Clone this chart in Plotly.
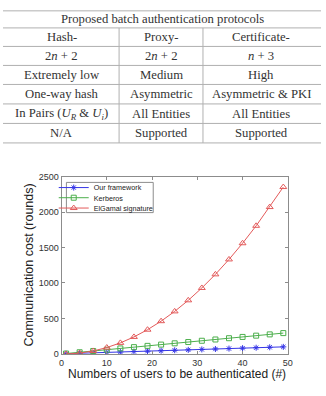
import plotly.graph_objects as go

W, H = 326, 396

# ---------------- data ----------------
table_title = "Proposed batch authentication protocols"
table_columns = ["Hash-", "Proxy-", "Certificate-"]
table_rows = [
    ["2<i>n</i> + 2", "2<i>n</i> + 2", "<i>n</i> + 3"],
    ["Extremely low", "Medium", "High"],
    ["One-way hash", "Asymmetric", "Asymmetric &amp; PKI"],
    ["In Pairs (<i>U<sub>R</sub></i> &amp; <i>U<sub>i</sub></i>)", "All Entities", "All Entities"],
    ["N/A", "Supported", "Supported"],
]

users = [1, 4, 7, 10, 13, 16, 19, 22, 25, 28, 31, 34, 37, 40, 43, 46, 49]
our_framework = [4, 10, 16, 22, 28, 34, 40, 46, 52, 58, 64, 70, 76, 82, 88, 94, 100]
kerberos = [6, 24, 42, 60, 78, 96, 114, 132, 150, 168, 186, 204, 222, 240, 258, 276, 294]
elgamal = [0, 12, 42, 90, 156, 240, 342, 462, 600, 756, 930, 1122, 1332, 1560, 1806, 2070, 2352]

series_names = ["Our framework", "Kerberos", "ElGamal signature"]
x_title = "Numbers of users to be authenticated (#)"
y_title = "Communication cost (rounds)"

# ---------------- helpers ----------------
def px(x):
    return x / W

def py(y):
    return 1 - y / H

fig = go.Figure()

colors = ["#3535e6", "#4caf4c", "#e35a5a"]
symbols = ["asterisk-open", "square-open", "triangle-up-open"]
sizes = [5, 5, 6]
legends = ["legend", "legend2", "legend3"]
for name, vals, c, s, sz, lg in zip(series_names, [our_framework, kerberos, elgamal],
                                    colors, symbols, sizes, legends):
    fig.add_trace(go.Scatter(
        x=users, y=vals, name=name, mode="lines+markers",
        line=dict(color=c, width=1),
        marker=dict(symbol=s, size=sz, color=c, line=dict(color=c, width=1)),
        legend=lg,
    ))

# plot area
left, right, top, bottom = 60, 292, 176, 358
axis_common = dict(
    showline=True, linecolor="#8c8c8c", linewidth=1, mirror="ticks",
    ticks="inside", ticklen=3, tickcolor="#8c8c8c", showgrid=False, zeroline=False,
    tickfont=dict(family="Liberation Sans, Arial", size=9, color="#333"),
)
fig.update_xaxes(domain=[px(left), px(right)], range=[0, 50], dtick=10, **axis_common)
fig.update_yaxes(domain=[py(bottom), py(top)], range=[0, 2500], dtick=500, **axis_common)

shapes = []
annotations = []

# ---------------- table ----------------
hlines = [6, 23.5, 42.5, 62, 81.5, 101.5, 121.5, 141.5]
vlines = [119, 205]
col_centers = [60, 162, 265]
for y in hlines:
    shapes.append(dict(type="line", xref="paper", yref="paper", x0=0, x1=1,
                       y0=py(y), y1=py(y), line=dict(color="#b0b0b0", width=1)))
for x in vlines:
    shapes.append(dict(type="line", xref="paper", yref="paper", x0=px(x), x1=px(x),
                       y0=py(hlines[1]), y1=py(hlines[-1]), line=dict(color="#b0b0b0", width=1)))

tfont = dict(family="Liberation Serif, Times New Roman, serif", size=12.7, color="#333")
annotations.append(dict(text=table_title, xref="paper", yref="paper", x=0.5,
                        y=py((hlines[0] + hlines[1]) / 2), showarrow=False,
                        xanchor="center", yanchor="middle", font=tfont))
all_rows = [table_columns] + table_rows
for r, row in enumerate(all_rows):
    yc = (hlines[r + 1] + hlines[r + 2]) / 2
    for c, txt in enumerate(row):
        annotations.append(dict(text=txt, xref="paper", yref="paper", x=px(col_centers[c]),
                                y=py(yc), showarrow=False, xanchor="center", yanchor="middle",
                                font=tfont))

# ---------------- axis titles ----------------
afont = dict(family="Liberation Sans, Arial", size=12, color="#222")
annotations.append(dict(text=x_title, xref="paper", yref="paper", x=px(178), y=py(379),
                        showarrow=False, xanchor="center", yanchor="middle", font=afont))
annotations.append(dict(text=y_title, xref="paper", yref="paper", x=px(27), y=py(267),
                        showarrow=False, xanchor="center", yanchor="middle", textangle=-90,
                        font=dict(family="Liberation Sans, Arial", size=12.5, color="#222")))

# ---------------- legend frame ----------------
shapes.append(dict(type="rect", xref="paper", yref="paper", x0=px(65), x1=px(154),
                   y0=py(213), y1=py(182), line=dict(color="#8c8c8c", width=1),
                   fillcolor="white", layer="below"))

lfont = dict(family="Liberation Sans, Arial", size=7.2, color="#222")
row_y = [187.3, 197.7, 208.3]
layout_legends = {}
for lg, yy in zip(legends, row_y):
    layout_legends[lg] = dict(x=px(52), y=py(yy), xanchor="left", yanchor="middle",
                              bgcolor="rgba(0,0,0,0)", borderwidth=0, font=lfont,
                              itemwidth=30)

fig.update_layout(
    width=W, height=H, margin=dict(l=0, r=0, t=0, b=0),
    paper_bgcolor="white", plot_bgcolor="white",
    shapes=shapes, annotations=annotations, showlegend=True,
    **layout_legends,
)

fig.write_html("out.html")
